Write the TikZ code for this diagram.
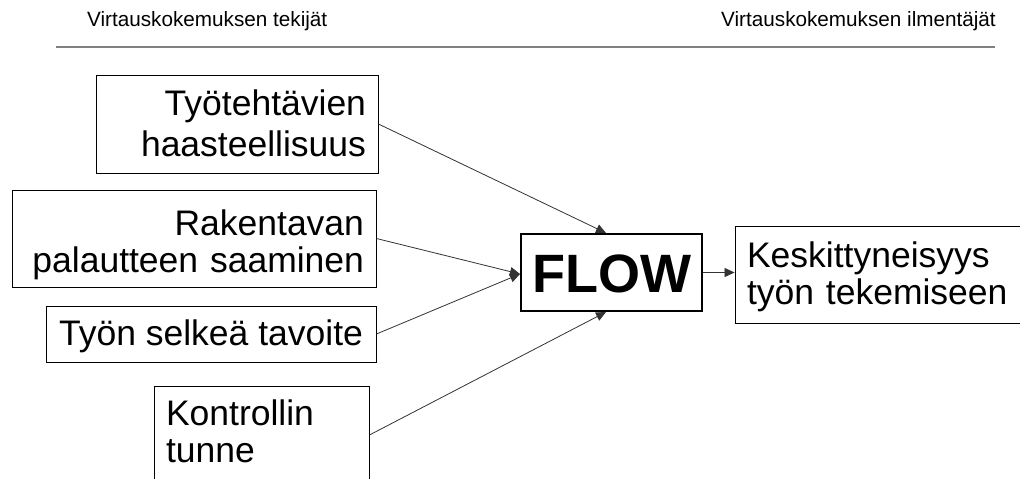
\documentclass[tikz,border=0pt]{standalone}
\usepackage{fontspec}
\setmainfont{Liberation Sans}
\usetikzlibrary{arrows.meta}

\tikzset{
  factor/.style={draw=black, line width=0.9pt, inner xsep=12pt, inner ysep=0pt,
    font=\fontsize{35.5}{37}\selectfont, anchor=center, text height=26pt},
  flowbox/.style={draw=black, line width=2pt, inner sep=0pt,
    font=\fontsize{54}{60}\selectfont\bfseries, anchor=center,
    minimum width=181pt, minimum height=77pt, text height=39pt, text depth=0pt},
  header/.style={font=\fontsize{20.7}{24}\selectfont, inner sep=0pt},
  link/.style={draw=black!80, line width=0.8pt,
    -{Triangle[length=10pt,width=9pt]}},
}

\begin{document}
\begin{tikzpicture}[x=1pt, y=-1pt]
  \useasboundingbox (0,0) rectangle (1020,479);
  \fill[white] (0,0) rectangle (1020,479);
  \clip (0,0) rectangle (1020,479);

  % column headings and rule
  \node[header, anchor=base west] (hleft) at (87,27) {Virtauskokemuksen tekijät};
  \node[header, anchor=base east] (hright) at (996,27) {Virtauskokemuksen ilmentäjät};
  \coordinate (ruleL) at (56,47);
  \coordinate (ruleR) at (995,47);
  \draw[gray, line width=1.6pt] (ruleL) -- (ruleR);

  % factors leading to flow
  \node[factor, font=\fontsize{35.5}{41}\selectfont, text width=258pt,
    minimum height=98pt, text depth=44pt, align=right] (b1) at (237,124)
    {Työtehtävien\\haasteellisuus};
  \node[factor, text width=340pt, minimum height=97pt, text depth=33pt,
    align=right] (b2) at (194,238.5)
    {Rakentavan\\palautteen saaminen};
  \node[factor, minimum width=330pt, minimum height=56pt, text depth=4pt,
    align=center] (b3) at (211,334)
    {Työn selkeä tavoite};
  \node[factor, text width=191pt, minimum height=95pt, text depth=43pt,
    align=left] (b4) at (261.5,433.5)
    {Kontrollin\\tunne};

  % central state
  \node[flowbox] (flow) at (611.5,272.5) {FLOW};

  % outcome
  \node[factor, text width=266pt, minimum height=97pt, text depth=41pt,
    align=left] (out) at (880,274.5)
    {Keskittyneisyys\\työn tekemiseen};

  % connectors
  \draw[link] (b1.east) -- ([xshift=-5.5pt]flow.north);
  \draw[link] (b2.east) -- ([yshift=-1.5pt]flow.west);
  \draw[link] (b3.east) -- ([yshift=-1.5pt]flow.west);
  \draw[link] ([yshift=-1.5pt]b4.east) -- ([xshift=-5.5pt]flow.south);
  \draw[link] (flow.east) -- (flow.east -| out.west);
\end{tikzpicture}
\end{document}
